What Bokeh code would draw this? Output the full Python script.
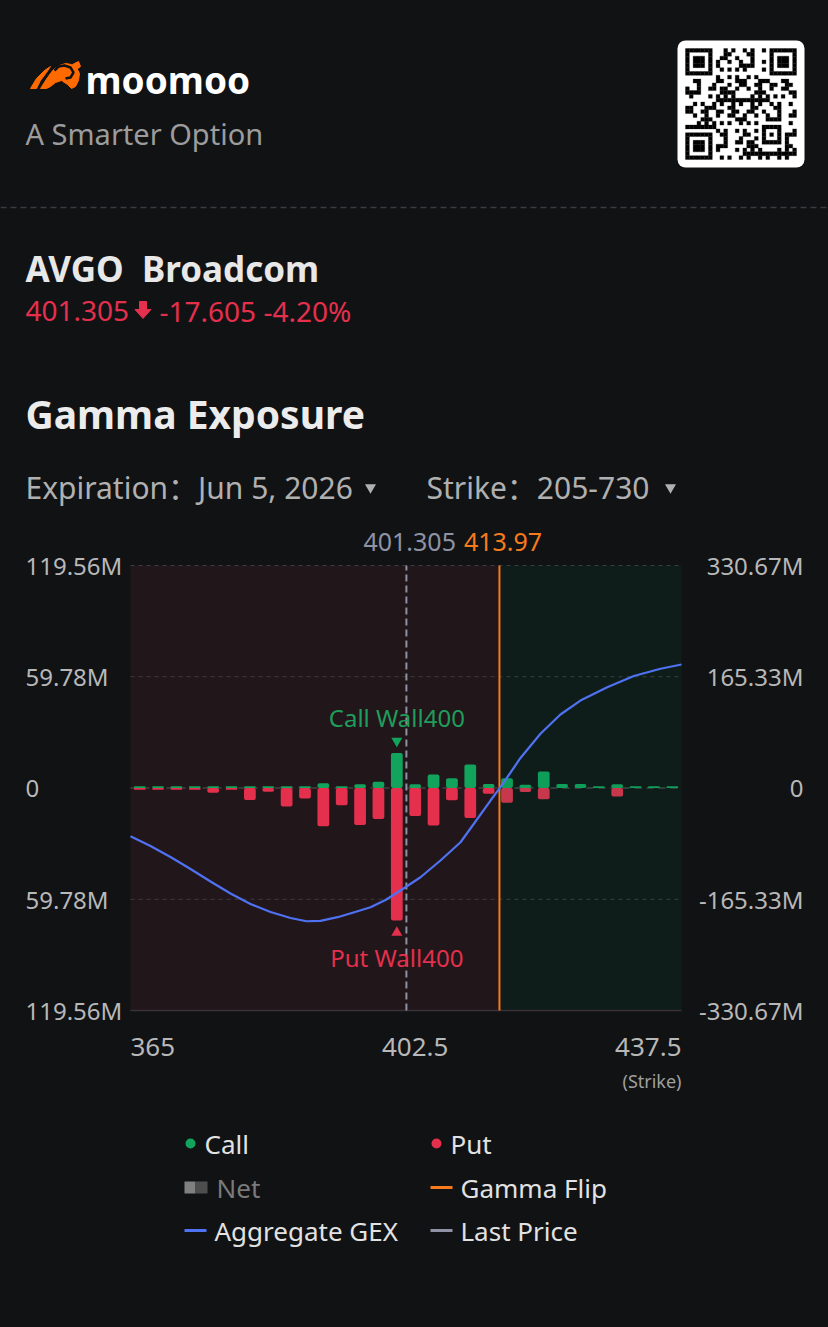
from bokeh.plotting import figure
from bokeh.models import Range1d
from bokeh.layouts import column
from bokeh.embed import file_html
from bokeh.resources import INLINE
from bokeh.core.properties import value

# ---------------- data ----------------
strikes = [365, 367.5, 370, 372.5, 375, 377.5, 380, 382.5, 385, 387.5,
           390, 392.5, 395, 397.5, 400, 402.5, 405, 407.5, 410, 412.5,
           415, 417.5, 420, 422.5, 425, 427.5, 430, 432.5, 435, 437.5]
call_gex = [1.0, 1.0, 1.0, 1.0, 1.0, 1.0, 1.0, 1.0, 1.0, 1.0,
            2.5, 1.0, 2.0, 3.4, 18.8, 2.0, 7.3, 5.2, 12.6, 2.2,
            5.2, 1.7, 8.8, 2.2, 2.2, 0.9, 2.0, 0.9, 0.9, 0.9]
put_gex = [-1.0, -1.0, -1.0, -1.0, -2.5, -1.0, -6.4, -2.0, -10.0, -5.7,
           -20.6, -9.3, -19.9, -16.7, -71.2, -15.0, -20.2, -6.6, -16.1, -3.1,
           -7.9, -2.2, -6.0, 0.0, 0.0, 0.0, -4.6, 0.0, 0.0, 0.0]
agg_strike = [363.75, 366.47, 369.19, 371.92, 374.64, 377.36, 380.08, 382.81,
              385.53, 387.71, 389.61, 391.93, 394.10, 396.42, 398.46, 400.50,
              403.22, 405.94, 408.67, 410.71, 412.75, 414.11, 416.83, 419.55,
              422.27, 424.99, 428.64, 432.26, 435.89, 438.75]
agg_gex = [-71.6, -86.2, -102.5, -120.4, -139.0, -156.8, -172.4, -184.3,
           -193.2, -198.0, -197.4, -192.0, -185.0, -177.2, -166.4, -152.3,
           -132.6, -107.7, -80.6, -49.8, -18.6, 1.2, 44.6, 80.6,
           109.2, 130.0, 149.8, 166.4, 177.2, 183.5]
last_price = 401.305
gamma_flip = 413.97
call_wall = 400
put_wall = 400
left_ticks = [119.56, 59.78, 0, -59.78, -119.56]
left_labels = ["119.56M", "59.78M", "0", "59.78M", "119.56M"]
right_ticks = [330.67, 165.33, 0, -165.33, -330.67]
right_labels = ["330.67M", "165.33M", "0", "-165.33M", "-330.67M"]
x_ticks = [365, 402.5, 437.5]
x_labels = ["365", "402.5", "437.5"]

# ---------------- style ----------------
BG = "#111214"
GREEN = "#12a45c"
RED = "#e4304d"
BLUE = "#4f72f2"
ORANGE = "#f77a1c"
LASTC = "#8e92a4"
FONT = value("'Noto Sans', 'Noto Sans CJK SC'")
W = 828


def bare(h, xr, yr):
    p = figure(width=W, height=h, x_range=xr, y_range=yr,
               x_axis_location=None, y_axis_location=None,
               toolbar_location=None, output_backend="svg", min_border=0,
               background_fill_color=BG, border_fill_color=BG,
               outline_line_color=None)
    p.grid.grid_line_color = None
    return p


def txt(p, x, y, s, size, color, align="left", bold=False, **kw):
    p.text(x=[x], y=[y], text=[s], text_font=FONT, text_font_size=f"{size}px",
           text_color=color, text_align=align, text_baseline="middle",
           text_font_style="bold" if bold else "normal", **kw)


# ---------------- header ----------------
HH = 520
hd = bare(HH, Range1d(0, W), Range1d(HH, 0))
# bull logo
hd.patches(xs=[[30, 36, 44, 50, 46, 40, 36],
               [40, 47, 53, 59, 65, 71, 76, 79, 78, 75, 71, 67, 61, 55, 50, 46]],
           ys=[[88, 78, 70, 66, 72, 80, 88],
               [88, 77, 69, 65, 63, 64, 67, 73, 80, 86, 88, 84, 80, 82, 86, 88]],
           fill_color="#ff6a00", line_color="#ff6a00")
hd.line(x=[54, 58, 64, 70, 73, 70, 65], y=[70, 66, 65, 67, 72, 77, 78],
        line_color=BG, line_width=2.5)
hd.patch(x=[72, 78, 80, 76], y=[64, 61, 66, 69], fill_color="#ff6a00", line_color="#ff6a00")
txt(hd, 85, 79, "moomoo", 37, "#ffffff", bold=True)
txt(hd, 25, 133, "A Smarter Option", 29, "#9c9c9c")
# QR code card
hd.quad(left=[677], right=[804], top=[40], bottom=[167], fill_color="#ffffff",
        line_color=None, border_radius=8)
N = 29
m = 111 / N
qx0, qy0 = 685, 48
ql, qr, qt, qb = [], [], [], []


def finder(i0, j0):
    for i in range(7):
        for j in range(7):
            if i in (0, 6) or j in (0, 6) or (2 <= i <= 4 and 2 <= j <= 4):
                yield i0 + i, j0 + j


dark = set()
for f in [(0, 0), (0, 22), (22, 0)]:
    dark |= set(finder(*f))
for i in range(5):
    for j in range(5):
        if i in (0, 4) or j in (0, 4) or (i == 2 and j == 2):
            dark.add((20 + i, 20 + j))
reserved = set()
for (a, b) in [(0, 0), (0, 21), (21, 0)]:
    for i in range(8):
        for j in range(8):
            reserved.add((a + i, b + j))
for i in range(N):
    for j in range(N):
        if (i, j) in reserved or (19 <= i <= 25 and 19 <= j <= 25):
            continue
        if ((i * 7 + j * 11 + (i * j) % 7) % 5) in (0, 2):
            dark.add((i, j))
for (i, j) in dark:
    ql.append(qx0 + j * m)
    qr.append(qx0 + (j + 1) * m)
    qt.append(qy0 + i * m)
    qb.append(qy0 + (i + 1) * m)
hd.quad(left=ql, right=qr, top=qt, bottom=qb, fill_color="#000000", line_color="#000000", line_width=0.3)
# dashed separator
hd.line(x=[0, W], y=[207, 207], line_color="#3a3b3e", line_width=1.5, line_dash="6 4")
txt(hd, 25, 268, "AVGO\u00a0\u00a0Broadcom", 35, "#e8e8e8", bold=True)
txt(hd, 25, 310, "401.305", 28, RED)
hd.patch(x=[139, 146, 146, 150.5, 142.5, 134.5, 139], y=[301, 301, 309, 309, 318, 309, 309],
         fill_color=RED, line_color=RED)
txt(hd, 159, 310, "-17.605 -4.20%", 28, RED)
txt(hd, 25, 413, "Gamma Exposure", 39, "#ececec", bold=True)
txt(hd, 25, 487, "Expiration：Jun 5, 2026", 30, "#b0b0b0")
txt(hd, 426, 487, "Strike：205-730", 30, "#b0b0b0")
hd.scatter(x=[370, 670], y=[487, 487], marker="inverted_triangle", size=11,
           fill_color="#b0b0b0", line_color=None)

# ---------------- chart ----------------
CH = 580
PL, PR = 130, 681          # plot area in px (horizontal)
PT, PB = 45, 490           # plot area in px (vertical, from chart top)
YMAX = left_ticks[0]
RMAX = right_ticks[0]
x_lo = strikes[0] - 1.25
x_hi = strikes[-1] + 1.25
ppx = (PR - PL) / (x_hi - x_lo)
ppy = (PB - PT) / (2 * YMAX)
xr = Range1d(x_lo - PL / ppx, x_hi + (W - PR) / ppx)
yr = Range1d(-YMAX - (CH - PB) / ppy, YMAX + PT / ppy)
ch = bare(CH, xr, yr)
k = RMAX / YMAX
ch.extra_y_ranges = {"agg": Range1d(yr.start * k, yr.end * k)}


def xpx(px):
    return xr.start + px / ppx


def ypx(px):
    return yr.end - px / ppy


# plot regions
ch.quad(left=[x_lo], right=[gamma_flip], bottom=[-YMAX], top=[YMAX], fill_color="#21161a", line_color=None)
# grid lines
for t in left_ticks:
    if t == 0:
        continue
    ch.line(x=[x_lo, x_hi], y=[t, t], line_color="#3c3b3e", line_width=1, line_dash="4 4")
ch.line(x=[x_lo, x_hi], y=[0, 0], line_color="#3a3537", line_width=2, line_dash="7 5")
# bars
ch.vbar(x=strikes, bottom=0, top=call_gex, width=1.6, fill_color=GREEN, line_color=None, border_radius=2)
ch.vbar(x=strikes, bottom=put_gex, top=0, width=1.6, fill_color=RED, line_color=None, border_radius=2)
# right (positive gamma) region overlay
ch.quad(left=[gamma_flip], right=[x_hi], bottom=[-YMAX], top=[YMAX], fill_color="#007646",
        fill_alpha=0.12, line_color=None)
# bottom border line
ch.line(x=[x_lo, x_hi], y=[-YMAX, -YMAX], line_color="#3a3035", line_width=1.5)
# last price & gamma flip
ch.line(x=[last_price, last_price], y=[-YMAX, YMAX], line_color=LASTC, line_width=2, line_dash="7 4")
ch.line(x=[gamma_flip, gamma_flip], y=[-YMAX, YMAX], line_color=ORANGE, line_width=2)
# aggregate GEX
ch.line(x=agg_strike, y=agg_gex, y_range_name="agg", line_color=BLUE, line_width=2.2,
        line_join="round")
# walls
cw = call_gex[strikes.index(call_wall)]
pw = put_gex[strikes.index(put_wall)]
ch.scatter(x=[call_wall], y=[cw + 12 / ppy], marker="inverted_triangle", size=11,
           fill_color=GREEN, line_color=None)
ch.scatter(x=[put_wall], y=[pw - 12 / ppy], marker="triangle", size=11,
           fill_color=RED, line_color=None)
txt(ch, call_wall, cw + 36 / ppy, f"Call Wall{call_wall}", 24, "#1f9d5a", align="center")
txt(ch, put_wall, pw - 37 / ppy, f"Put Wall{put_wall}", 24, RED, align="center")
# top labels
mid = (last_price + gamma_flip) / 2
txt(ch, mid, ypx(21), f"{last_price}", 25, LASTC, align="right", x_offset=3)
txt(ch, mid, ypx(21), f"{gamma_flip}", 25, ORANGE, align="left", x_offset=11)
# y labels
for t, s in zip(left_ticks, left_labels):
    txt(ch, xpx(25), t, s, 24, "#b8b8b8")
for t, s in zip(right_ticks, right_labels):
    txt(ch, xpx(803), t / k, s, 24, "#b8b8b8", align="right")
# x labels
xl_y = -YMAX - 36 / ppy
txt(ch, x_ticks[0] - 1.25, xl_y, x_labels[0], 26, "#b8b8b8")
txt(ch, x_ticks[1], xl_y, x_labels[1], 26, "#b8b8b8", align="center")
txt(ch, x_ticks[2] + 1.25, xl_y, x_labels[2], 26, "#b8b8b8", align="right")
txt(ch, x_hi, -YMAX - 70 / ppy, "(Strike)", 18, "#a0a0a0", align="right")

# ---------------- legend ----------------
LH = 1327 - HH - CH
Y0 = HH + CH
lg = bare(LH, Range1d(0, W), Range1d(Y0 + LH, Y0))
LC = "#e2e2e2"
lg.scatter(x=[190, 436], y=[1143, 1143], size=10, fill_color=[GREEN, RED], line_color=None)
txt(lg, 204, 1143, "Call", 26, LC)
txt(lg, 450, 1143, "Put", 26, LC)
lg.quad(left=[184, 195], right=[195, 207], top=[1181, 1181], bottom=[1193, 1193],
        fill_color=["#808080", "#4e4e4e"], line_color=None)
txt(lg, 216, 1187, "Net", 26, "#7a7a7a")
lg.line(x=[430, 452], y=[1187, 1187], line_color=ORANGE, line_width=3)
txt(lg, 460, 1187, "Gamma Flip", 26, LC)
lg.line(x=[184, 206], y=[1230, 1230], line_color=BLUE, line_width=3)
txt(lg, 214, 1230, "Aggregate GEX", 26, LC)
lg.line(x=[430, 452], y=[1230, 1230], line_color=LASTC, line_width=3)
txt(lg, 460, 1230, "Last Price", 26, LC)

page = column(hd, ch, lg, spacing=0)
html = file_html(page, INLINE, title="Gamma Exposure")
html = html.replace("</head>", "<style>html, body { background: #111214; }</style></head>", 1)
open("out.html", "w").write(html)
